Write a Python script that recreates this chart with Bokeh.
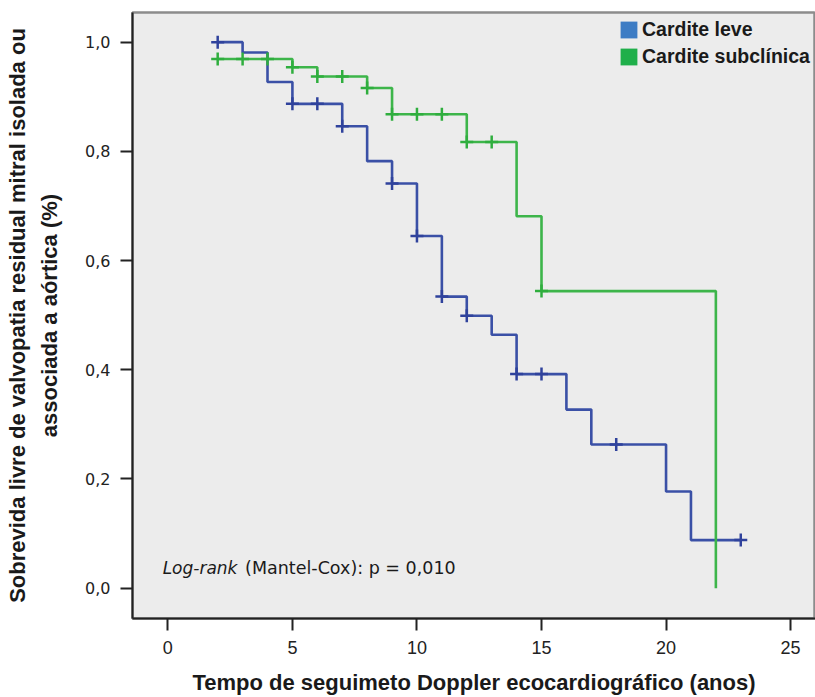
from bokeh.plotting import figure
from bokeh.models import (FixedTicker, CustomJSTickFormatter, Range1d, Legend,
                          LegendItem)
from bokeh.core.properties import value
from bokeh.embed import file_html
from bokeh.resources import INLINE

# ---------------- data ----------------
leve_t = [2, 3, 4, 5, 7, 8, 9, 10, 11, 12, 13, 14, 16, 17, 20, 21, 23]
leve_s = [1.0, 0.981, 0.927, 0.887, 0.846, 0.782, 0.741, 0.645, 0.534, 0.499,
          0.464, 0.392, 0.327, 0.263, 0.177, 0.088, 0.088]
leve_cens = [2, 5, 6, 7, 9, 10, 11, 12, 14, 15, 18, 23]

subc_t = [2, 5, 6, 8, 9, 12, 14, 15, 22]
subc_s = [0.969, 0.954, 0.937, 0.916, 0.868, 0.817, 0.681, 0.544, 0.0]
subc_cens = [2, 3, 4, 5, 6, 7, 8, 9, 10, 11, 12, 13, 15]

series_names = ["Cardite leve", "Cardite subclínica"]
x_ticks = [0, 5, 10, 15, 20, 25]
y_ticks = [0.0, 0.2, 0.4, 0.6, 0.8, 1.0]
annot_italic = "Log-rank"
annot_rest = "(Mantel-Cox): p = 0,010"

line_colors = ["#3a50a6", "#3db54a"]
cross_colors = ["#2f429c", "#2fae3e"]
legend_colors = ["#3d7cc4", "#1faf4a"]

NAN = float("nan")


def step_value(times, surv, t):
    v = surv[0]
    for ti, si in zip(times, surv):
        if ti <= t:
            v = si
    return v


# ---------------- figure ----------------
p = figure(width=815, height=697, output_backend="svg", toolbar_location=None,
           x_range=Range1d(-1.42, 26.0), y_range=Range1d(-0.0556, 1.0543),
           min_border_left=132, min_border_right=0, min_border_top=12,
           min_border_bottom=76)

p.background_fill_color = "#ececec"
p.border_fill_color = "white"
p.outline_line_color = "#8c8c8c"
p.outline_line_width = 2.5
p.grid.visible = False

# curves
for times, surv, cens, lc, cc in [(leve_t, leve_s, leve_cens, line_colors[0], cross_colors[0]),
                                  (subc_t, subc_s, subc_cens, line_colors[1], cross_colors[1])]:
    p.step(times, surv, mode="after", line_color=lc, line_width=2.6)
    cy = [step_value(times, surv, t) for t in cens]
    p.scatter(cens, cy, marker="cross", size=13, line_color=cc, line_width=2.5)

# legend squares (renderers without visible data)
items = []
for name, col in zip(series_names, legend_colors):
    r = p.quad(left=[NAN], right=[NAN], top=[NAN], bottom=[NAN],
               fill_color=col, line_color=None)
    items.append(LegendItem(label=name, renderers=[r]))
legend = Legend(items=items, location=(486, 550))
legend.background_fill_alpha = 0
legend.border_line_color = None
legend.padding = 0
legend.margin = 0
legend.spacing = 4
legend.glyph_width = 21
legend.glyph_height = 21
legend.label_standoff = 3
legend.label_text_font = "Liberation Sans"
legend.label_text_font_style = "bold"
legend.label_text_font_size = "19.5px"
legend.label_text_color = "#1a1a1a"
legend.label_text_baseline = "middle"
p.add_layout(legend, "center")

# annotation
p.text(x=[-0.21], y=[0.037], text=[annot_italic], text_font=value("DejaVu Sans"),
       text_font_style="italic", text_font_size="17px", text_color="#1a1a1a",
       text_baseline="middle", text_align="left")
p.text(x=[3.1], y=[0.037], text=[annot_rest], text_font=value("DejaVu Sans"),
       text_font_size="17.5px", text_color="#1a1a1a",
       text_baseline="middle", text_align="left")

# axes
xa = p.xaxis[0]
xa.ticker = FixedTicker(ticks=x_ticks)
xa.minor_tick_line_color = None
xa.major_tick_in = 0
xa.major_tick_out = 12
xa.major_tick_line_width = 2
xa.major_tick_line_color = "#222222"
xa.axis_line_width = 2
xa.axis_line_color = "#222222"
xa.major_label_text_font = "Liberation Sans"
xa.major_label_text_font_size = "18px"
xa.major_label_text_color = "#222222"
xa.major_label_standoff = 10
xa.axis_label = "Tempo de seguimeto Doppler ecocardiográfico (anos)"
xa.axis_label_text_font = "Liberation Sans"
xa.axis_label_text_font_style = "bold"
xa.axis_label_text_font_size = "22px"
xa.axis_label_text_color = "#1a1a1a"
xa.axis_label_standoff = 13

ya = p.yaxis[0]
ya.ticker = FixedTicker(ticks=y_ticks)
ya.formatter = CustomJSTickFormatter(code="return tick.toFixed(1).replace('.', ',');")
ya.minor_tick_line_color = None
ya.major_tick_in = 0
ya.major_tick_out = 12
ya.major_tick_line_width = 2
ya.major_tick_line_color = "#222222"
ya.axis_line_width = 2
ya.axis_line_color = "#222222"
ya.major_label_text_font = "DejaVu Sans"
ya.major_label_text_font_size = "16px"
ya.major_label_text_color = "#222222"
ya.major_label_standoff = 10
ya.axis_label = "Sobrevida livre de valvopatia residual mitral isolada ou\nassociada a aórtica (%)"
ya.axis_label_text_font = "Liberation Sans"
ya.axis_label_text_font_style = "bold"
ya.axis_label_text_font_size = "22px"
ya.axis_label_text_color = "#1a1a1a"
ya.axis_label_text_line_height = 1.3
ya.axis_label_standoff = 20

open("out.html", "w").write(file_html(p, INLINE))
